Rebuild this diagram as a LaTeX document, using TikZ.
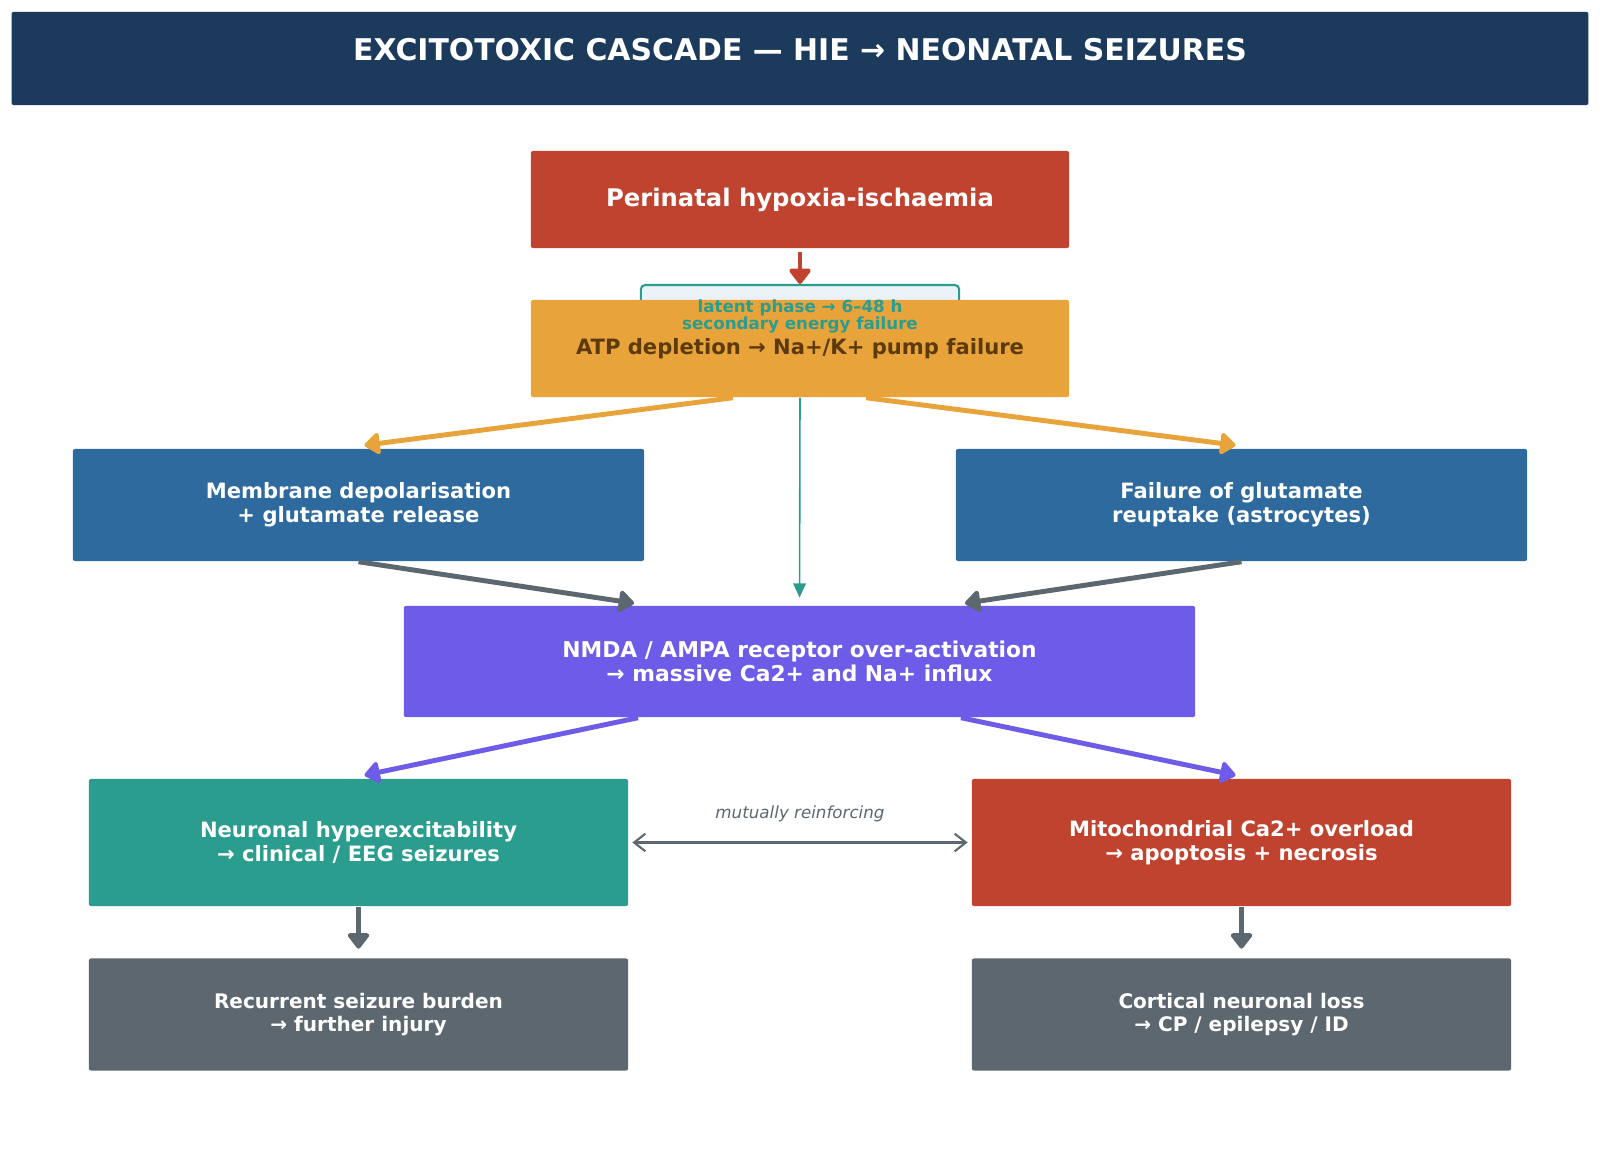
\documentclass[tikz,border=0pt]{standalone}
\usepackage{fontspec}
\setmainfont{DejaVu Sans}
\usepackage{tikz}
\usetikzlibrary{arrows.meta,positioning,calc}
\definecolor{TitleBlue}{HTML}{1B3A5C}
\definecolor{HieRed}{HTML}{C0432F}
\definecolor{AtpOrange}{HTML}{E8A33A}
\definecolor{AtpBrown}{HTML}{5C3A0A}
\definecolor{GluBlue}{HTML}{2E6A9E}
\definecolor{RecPurple}{HTML}{6C5CE7}
\definecolor{SzTeal}{HTML}{2A9D8F}
\definecolor{OutGray}{HTML}{5D6770}
\definecolor{LatentFill}{HTML}{EAF2F8}

\begin{document}
\begin{tikzpicture}[x=0.01cm, y=-0.01cm,
  box/.style={rectangle, rounded corners=0.6pt, align=center, text=white, font=\bfseries\fontsize{6}{6.9}\selectfont},
  thick arrow/.style={line width=1.4pt, -{Triangle[length=4.8pt,width=7pt,round]}, line join=round}]
\useasboundingbox (0,0) rectangle (1600,1152);

% title bar
\node[box, fill=TitleBlue, minimum width=15.76cm, minimum height=0.93cm] (titlebar) at (800,58.5) {};
\node[font=\bfseries\fontsize{8.5}{10}\selectfont, text=white] (titletext) at (800,50) {EXCITOTOXIC CASCADE — HIE → NEONATAL SEIZURES};

% insult and energy failure
\node[box, fill=HieRed, minimum width=5.38cm, minimum height=0.97cm, font=\bfseries\fontsize{6.9}{8}\selectfont] (peri) at (800,199.5) {Perinatal hypoxia-ischaemia};
\node[draw=SzTeal, line width=0.6pt, fill=LatentFill, rounded corners=1.2pt, minimum width=3.18cm, minimum height=0.62cm] (latent) at (800,316) {};
\node[box, fill=AtpOrange, text=AtpBrown, minimum width=5.38cm, minimum height=0.97cm, font=\bfseries\fontsize{6}{7.5}\selectfont] (atp) at (800,348.5) {ATP depletion → Na+/K+ pump failure};
\node[align=center, text=SzTeal, font=\bfseries\fontsize{4.75}{5}\selectfont] (latenttext) at (800,316.5) {latent phase → 6–48 h\\secondary energy failure};

% glutamate
\node[box, fill=GluBlue, minimum width=5.71cm, minimum height=1.12cm] (memb) at (358.5,505) {Membrane depolarisation\\+ glutamate release};
\node[box, fill=GluBlue, minimum width=5.71cm, minimum height=1.12cm] (fail) at (1241.5,505) {Failure of glutamate\\reuptake (astrocytes)};

% receptors
\node[box, fill=RecPurple, minimum width=7.91cm, minimum height=1.11cm, font=\bfseries\fontsize{6.2}{7}\selectfont] (nmda) at (799.5,661.5) {NMDA / AMPA receptor over-activation\\→ massive Ca2+ and Na+ influx};

% consequences
\node[box, fill=SzTeal, minimum width=5.39cm, minimum height=1.27cm] (hyper) at (358.5,842.5) {Neuronal hyperexcitability\\→ clinical / EEG seizures};
\node[box, fill=HieRed, minimum width=5.39cm, minimum height=1.27cm] (mito) at (1241.5,842.5) {Mitochondrial Ca2+ overload\\→ apoptosis + necrosis};

% outcomes
\node[box, fill=OutGray, minimum width=5.39cm, minimum height=1.12cm, font=\bfseries\fontsize{5.7}{6.5}\selectfont] (burden) at (358.5,1014.5) {Recurrent seizure burden\\→ further injury};
\node[box, fill=OutGray, minimum width=5.39cm, minimum height=1.12cm, font=\bfseries\fontsize{5.7}{6.5}\selectfont] (loss) at (1241.5,1014.5) {Cortical neuronal loss\\→ CP / epilepsy / ID};

% arrows
\draw[thick arrow, HieRed, shorten <=1pt] (peri.south) -- (latent.north);
\draw[thick arrow, AtpOrange] ($(atp.south)+(-67,0)$) -- ($(memb.north)+(6,-3)$);
\draw[thick arrow, AtpOrange] ($(atp.south)+(66,0)$) -- ($(fail.north)+(-6,-3)$);
\draw[SzTeal, line width=0.45pt, -{Triangle[length=4pt,width=3.6pt]}, shorten >=2.2pt] (atp.south) -- (nmda.north);
\draw[thick arrow, OutGray] (memb.south) -- ($(nmda.north west)+(231,-2)$);
\draw[thick arrow, OutGray] (fail.south) -- ($(nmda.north east)+(-231,-2)$);
\draw[thick arrow, RecPurple] ($(nmda.south west)+(235,0)$) -- ($(hyper.north)+(6,-3)$);
\draw[thick arrow, RecPurple] ($(nmda.south east)+(-235,0)$) -- ($(mito.north)+(-6,-3)$);
\draw[OutGray, line width=0.6pt, {Straight Barb[length=3.2pt,width=5pt]}-{Straight Barb[length=3.2pt,width=5pt]}, shorten <=1pt, shorten >=1pt] (hyper.east) -- node[above=2.3pt, font=\itshape\fontsize{4.75}{5}\selectfont, text=OutGray] (mutual) {mutually reinforcing} (mito.west);
\draw[thick arrow, OutGray, shorten >=2.6pt] (hyper.south) -- (burden.north);
\draw[thick arrow, OutGray, shorten >=2.6pt] (mito.south) -- (loss.north);
\end{tikzpicture}
\end{document}
